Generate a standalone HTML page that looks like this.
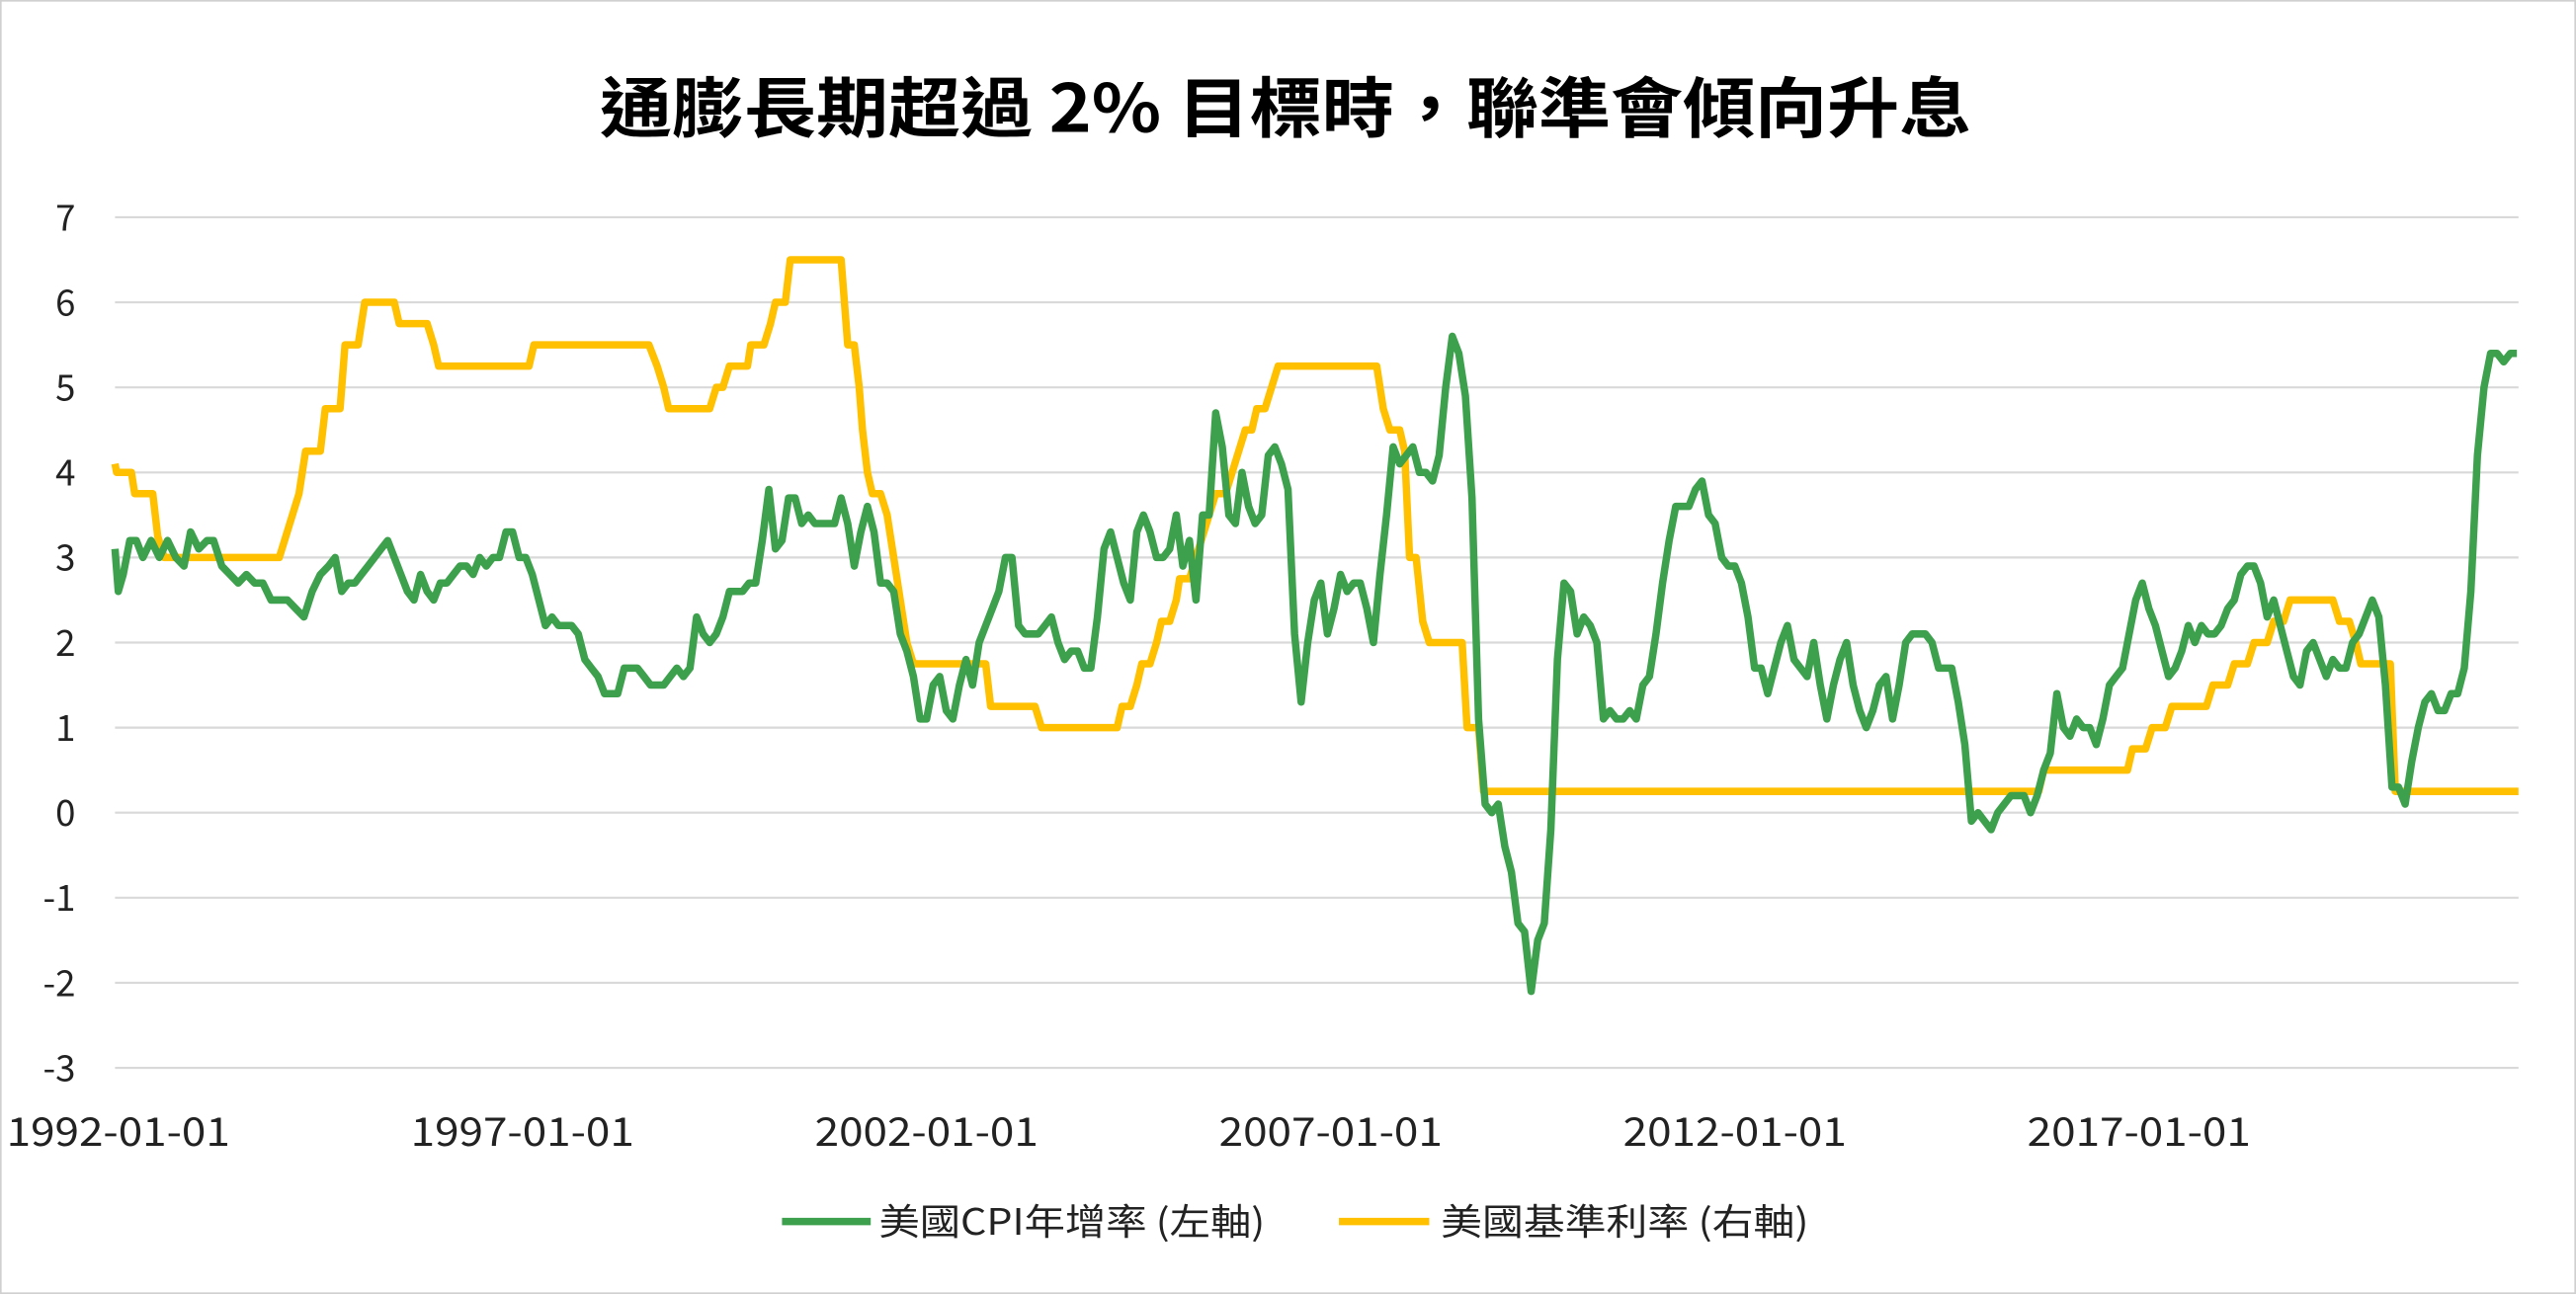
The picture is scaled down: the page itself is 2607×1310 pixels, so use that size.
<!DOCTYPE html>
<html><head><meta charset="utf-8"><style>
html,body{margin:0;padding:0;background:#fff;}
svg{display:block;}
text{font-family:"Noto Sans CJK TC","Liberation Sans",sans-serif;fill:#222;}
</style></head><body>
<svg id="s" width="2607" height="1310" viewBox="0 0 1568 785" preserveAspectRatio="none" xmlns="http://www.w3.org/2000/svg">
<rect x="0.5" y="0.5" width="1567" height="784" fill="#fff" stroke="#d0d0d0"/>
<text x="365" y="80" font-size="40" font-weight="bold" textLength="835" lengthAdjust="spacingAndGlyphs" style="fill:#000">通膨長期超過 2% 目標時，聯準會傾向升息</text>
<g id="grid" stroke="#d9d9d9" stroke-width="1.3"></g>
<g id="yl" font-size="22" text-anchor="end"></g>
<g font-size="24">
<text x="4" y="695" textLength="136" lengthAdjust="spacingAndGlyphs">1992-01-01</text>
<text x="250" y="695" textLength="136" lengthAdjust="spacingAndGlyphs">1997-01-01</text>
<text x="496" y="695" textLength="136" lengthAdjust="spacingAndGlyphs">2002-01-01</text>
<text x="742" y="695" textLength="136" lengthAdjust="spacingAndGlyphs">2007-01-01</text>
<text x="988" y="695" textLength="136" lengthAdjust="spacingAndGlyphs">2012-01-01</text>
<text x="1234" y="695" textLength="136" lengthAdjust="spacingAndGlyphs">2017-01-01</text>
</g>
<polyline id="fed" fill="none" stroke="#FFC000" stroke-width="4.5" stroke-linejoin="round"/>
<polyline id="cpi" fill="none" stroke="#3DA04C" stroke-width="4.5" stroke-linejoin="round"/>
<line x1="476" y1="741" x2="530" y2="741" stroke="#3DA04C" stroke-width="4.5"/>
<text x="535" y="749" font-size="22" textLength="235" lengthAdjust="spacingAndGlyphs">美國CPI年增率 (左軸)</text>
<line x1="815" y1="741" x2="870" y2="741" stroke="#FFC000" stroke-width="4.5"/>
<text x="877" y="749" font-size="22" textLength="224" lengthAdjust="spacingAndGlyphs">美國基準利率 (右軸)</text>
</svg>
<script>
var Y=function(v){return (493-v*51.6).toFixed(1);};
var g=document.getElementById('grid'),yl=document.getElementById('yl'),ns="http://www.w3.org/2000/svg";
for(var v=-3;v<=7;v++){var l=document.createElementNS(ns,'line');l.setAttribute('x1',70);l.setAttribute('x2',1533);l.setAttribute('y1',Y(v));l.setAttribute('y2',Y(v));g.appendChild(l);
var t=document.createElementNS(ns,'text');t.setAttribute('x',46);t.setAttribute('y',(493-v*51.6+8).toFixed(1));t.textContent=v;yl.appendChild(t);}
var c=[70,3.1,72,2.6,75,2.8,79,3.2,83,3.2,87,3.0,92,3.2,97,3.0,102,3.2,107,3.0,112,2.9,116,3.3,121,3.1,126,3.2,130,3.2,135,2.9,140,2.8,145,2.7,150,2.8,155,2.7,160,2.7,165,2.5,170,2.5,175,2.5,180,2.4,185,2.3,190,2.6,195,2.8,200,2.9,204,3.0,208,2.6,212,2.7,216,2.7,220,2.8,224,2.9,228,3.0,232,3.1,236,3.2,240,3.0,244,2.8,248,2.6,252,2.5,256,2.8,260,2.6,264,2.5,268,2.7,272,2.7,276,2.8,280,2.9,284,2.9,288,2.8,292,3.0,296,2.9,300,3.0,304,3.0,308,3.3,312,3.3,316,3.0,320,3.0,324,2.8,328,2.5,332,2.2,336,2.3,340,2.2,344,2.2,348,2.2,352,2.1,356,1.8,360,1.7,364,1.6,368,1.4,372,1.4,376,1.4,380,1.7,384,1.7,388,1.7,392,1.6,396,1.5,400,1.5,404,1.5,408,1.6,412,1.7,416,1.6,420,1.7,424,2.3,428,2.1,432,2.0,436,2.1,440,2.3,444,2.6,448,2.6,452,2.6,456,2.7,460,2.7,464,3.2,468,3.8,472,3.1,476,3.2,480,3.7,484,3.7,488,3.4,492,3.5,496,3.4,500,3.4,504,3.4,508,3.4,512,3.7,516,3.4,520,2.9,524,3.3,528,3.6,532,3.3,536,2.7,540,2.7,544,2.6,548,2.1,552,1.9,556,1.6,560,1.1,564,1.1,568,1.5,572,1.6,576,1.2,580,1.1,584,1.5,588,1.8,592,1.5,596,2.0,600,2.2,604,2.4,608,2.6,612,3.0,616,3.0,620,2.2,624,2.1,628,2.1,632,2.1,636,2.2,640,2.3,644,2.0,648,1.8,652,1.9,656,1.9,660,1.7,664,1.7,668,2.3,672,3.1,676,3.3,680,3.0,684,2.7,688,2.5,692,3.3,696,3.5,700,3.3,704,3.0,708,3.0,712,3.1,716,3.5,720,2.9,724,3.2,728,2.5,732,3.5,736,3.5,740,4.7,744,4.3,748,3.5,752,3.4,756,4.0,760,3.6,764,3.4,768,3.5,772,4.2,776,4.3,780,4.1,784,3.8,788,2.1,792,1.3,796,2.0,800,2.5,804,2.7,808,2.1,812,2.4,816,2.8,820,2.6,824,2.7,828,2.7,832,2.4,836,2.0,840,2.8,844,3.5,848,4.3,852,4.1,856,4.2,860,4.3,864,4.0,868,4.0,872,3.9,876,4.2,880,5.0,884,5.6,888,5.4,892,4.9,896,3.7,900,1.1,904,0.1,908,0.0,912,0.1,916,-0.4,920,-0.7,924,-1.3,928,-1.4,932,-2.1,936,-1.5,940,-1.3,944,-0.2,948,1.8,952,2.7,956,2.6,960,2.1,964,2.3,968,2.2,972,2.0,976,1.1,980,1.2,984,1.1,988,1.1,992,1.2,996,1.1,1000,1.5,1004,1.6,1008,2.1,1012,2.7,1016,3.2,1020,3.6,1024,3.6,1028,3.6,1032,3.8,1036,3.9,1040,3.5,1044,3.4,1048,3.0,1052,2.9,1056,2.9,1060,2.7,1064,2.3,1068,1.7,1072,1.7,1076,1.4,1080,1.7,1084,2.0,1088,2.2,1092,1.8,1096,1.7,1100,1.6,1104,2.0,1108,1.5,1112,1.1,1116,1.5,1120,1.8,1124,2.0,1128,1.5,1132,1.2,1136,1.0,1140,1.2,1144,1.5,1148,1.6,1152,1.1,1156,1.5,1160,2.0,1164,2.1,1168,2.1,1172,2.1,1176,2.0,1180,1.7,1184,1.7,1188,1.7,1192,1.3,1196,0.8,1200,-0.1,1204,0.0,1208,-0.1,1212,-0.2,1216,0.0,1220,0.1,1224,0.2,1228,0.2,1232,0.2,1236,0.0,1240,0.2,1244,0.5,1248,0.7,1252,1.4,1256,1.0,1260,0.9,1264,1.1,1268,1.0,1272,1.0,1276,0.8,1280,1.1,1284,1.5,1288,1.6,1292,1.7,1296,2.1,1300,2.5,1304,2.7,1308,2.4,1312,2.2,1316,1.9,1320,1.6,1324,1.7,1328,1.9,1332,2.2,1336,2.0,1340,2.2,1344,2.1,1348,2.1,1352,2.2,1356,2.4,1360,2.5,1364,2.8,1368,2.9,1372,2.9,1376,2.7,1380,2.3,1384,2.5,1388,2.2,1392,1.9,1396,1.6,1400,1.5,1404,1.9,1408,2.0,1412,1.8,1416,1.6,1420,1.8,1424,1.7,1428,1.7,1432,2.0,1436,2.1,1440,2.3,1444,2.5,1448,2.3,1452,1.5,1456,0.3,1460,0.3,1464,0.1,1468,0.6,1472,1.0,1476,1.3,1480,1.4,1484,1.2,1488,1.2,1492,1.4,1496,1.4,1500,1.7,1504,2.6,1508,4.2,1512,5.0,1516,5.4,1520,5.4,1524,5.3,1528,5.4,1532,5.4];
var f=[70,4.1,71,4.0,80,4.0,82,3.75,93,3.75,96,3.25,100,3.0,170,3.0,174,3.25,178,3.5,182,3.75,186,4.25,195,4.25,198,4.75,207,4.75,210,5.5,218,5.5,222,6.0,240,6.0,243,5.75,260,5.75,264,5.5,267,5.25,322,5.25,325,5.5,395,5.5,400,5.25,404,5.0,407,4.75,432,4.75,436,5.0,440,5.0,444,5.25,455,5.25,457,5.5,465,5.5,469,5.75,472,6.0,478,6.0,481,6.5,512,6.5,514,6.0,516,5.5,520,5.5,523,5.0,525,4.5,528,4.0,531,3.75,536,3.75,540,3.5,544,3.0,548,2.5,552,2.0,556,1.75,600,1.75,603,1.25,630,1.25,634,1.0,680,1.0,683,1.25,688,1.25,692,1.5,695,1.75,700,1.75,704,2.0,707,2.25,712,2.25,716,2.5,718,2.75,724,2.75,728,3.0,732,3.25,736,3.5,740,3.75,746,3.75,750,4.0,754,4.25,758,4.5,762,4.5,765,4.75,770,4.75,774,5.0,778,5.25,838,5.25,842,4.75,846,4.5,852,4.5,855,4.25,858,3.0,862,3.0,866,2.25,870,2.0,890,2.0,893,1.0,900,1.0,903,0.25,1241,0.25,1244,0.5,1295,0.5,1298,0.75,1306,0.75,1310,1.0,1318,1.0,1322,1.25,1343,1.25,1347,1.5,1356,1.5,1360,1.75,1368,1.75,1372,2.0,1380,2.0,1384,2.25,1390,2.25,1394,2.5,1420,2.5,1424,2.25,1430,2.25,1434,2.0,1437,1.75,1455,1.75,1458,0.25,1533,0.25];
function pts(a){var s=[];for(var i=0;i<a.length;i+=2)s.push(a[i]+','+Y(a[i+1]));return s.join(' ');}
document.getElementById('cpi').setAttribute('points',pts(c));
document.getElementById('fed').setAttribute('points',pts(f));
</script>
</body></html>
